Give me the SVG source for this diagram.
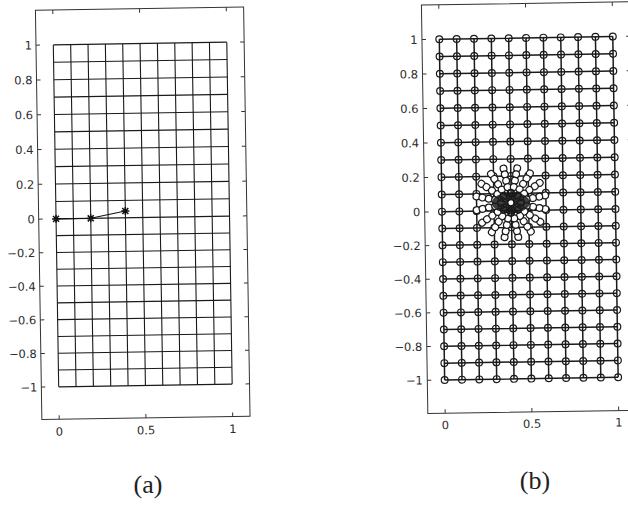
<svg xmlns="http://www.w3.org/2000/svg" width="628" height="506" viewBox="0 0 628 506">
<style>
.ax{fill:none;stroke:#333;stroke-width:1}
.ga{fill:none;stroke:#1a1a1a;stroke-width:1.1}
.gb{fill:none;stroke:#1a1a1a;stroke-width:1.5}
.nd{fill:none;stroke:#1a1a1a;stroke-width:1.2}
.cl{fill:#fff;stroke:#1a1a1a;stroke-width:1.2}
.tk{font-family:"DejaVu Sans",sans-serif;font-size:11.5px;fill:#2a2a2a}
.ty{text-anchor:end}
.tx{text-anchor:middle}
.cap{font-family:"Liberation Serif",serif;font-size:26px;fill:#222;text-anchor:middle}
</style>
<defs>
<path id="star" d="M-4 0H4M0-4V4M-3-3L3 3M-3 3L3-3" fill="none" stroke="#111" stroke-width="1.5"/>
<g id="brow" class="nd">
<circle cx="442" cy="0" r="3.4"/><circle cx="459.35" cy="0" r="3.4"/><circle cx="476.7" cy="0" r="3.4"/><circle cx="494.05" cy="0" r="3.4"/><circle cx="511.4" cy="0" r="3.4"/><circle cx="528.75" cy="0" r="3.4"/><circle cx="546.1" cy="0" r="3.4"/><circle cx="563.45" cy="0" r="3.4"/><circle cx="580.8" cy="0" r="3.4"/><circle cx="598.15" cy="0" r="3.4"/><circle cx="615.5" cy="0" r="3.4"/>
</g>
<line id="spoke" x1="0" y1="0" x2="35" y2="0" stroke="#111" stroke-width="1.4"/>
<g id="ray" class="cl"><circle cx="35" cy="0" r="3.4"/><circle cx="29" cy="0" r="3.4"/><circle cx="22.5" cy="0" r="3.4"/><circle cx="16" cy="0" r="3.4"/></g>
</defs>
<rect width="628" height="506" fill="#fff"/>

<g id="plot-a" transform="rotate(-0.9 143 215)">
<rect class="ax" x="38.65" y="8.7" width="208.2" height="409.3"/>
<path class="ax" d="M38.65 43.5h4M38.65 78.3h4M38.65 113.1h4M38.65 147.9h4M38.65 182.7h4M38.65 217.5h4M38.65 251.1h4M38.65 284.7h4M38.65 318.3h4M38.65 351.9h4M38.65 385.5h4M246.85 43.5h-4M246.85 78.3h-4M246.85 113.1h-4M246.85 147.9h-4M246.85 182.7h-4M246.85 217.5h-4M246.85 251.1h-4M246.85 284.7h-4M246.85 318.3h-4M246.85 351.9h-4M246.85 385.5h-4M56 8.7v4M142.75 8.7v4M229.5 8.7v4M56 418v-4M142.75 418v-4M229.5 418v-4"/>
<path class="ga" d="M56 43.5V385.5M73.35 43.5V385.5M90.7 43.5V385.5M108.05 43.5V385.5M125.4 43.5V385.5M142.75 43.5V385.5M160.1 43.5V385.5M177.45 43.5V385.5M194.8 43.5V385.5M212.15 43.5V385.5M229.5 43.5V385.5"/>
<path class="ga" d="M56 43.5H229.5M56 60.9H229.5M56 95.7H229.5M56 113.1H229.5M56 130.5H229.5M56 147.9H229.5M56 165.3H229.5M56 182.7H229.5M56 200.1H229.5M56 217.5H229.5M56 251.1H229.5M56 267.9H229.5M56 284.7H229.5M56 301.5H229.5M56 318.3H229.5M56 335.1H229.5M56 351.9H229.5M56 368.7H229.5M56 385.5H229.5"/>
<path class="ga" stroke-width="1.8" d="M56 78.3H229.5M56 234.3H229.5"/>
<g id="path-a">
<path d="M56 217.5L90.7 217.5L125.4 210.7" fill="none" stroke="#111" stroke-width="1.1"/>
<use href="#star" x="56" y="217.5"/>
<use href="#star" x="90.7" y="217.5"/>
<use href="#star" x="125.4" y="210.7"/>
</g>
<g class="tk ty">
<text x="34.65" y="47.7">1</text>
<text x="34.65" y="82.5">0.8</text>
<text x="34.65" y="117.3">0.6</text>
<text x="34.65" y="152.1">0.4</text>
<text x="34.65" y="186.9">0.2</text>
<text x="34.65" y="221.7">0</text>
<text x="34.65" y="255.3">−0.2</text>
<text x="34.65" y="288.9">−0.4</text>
<text x="34.65" y="322.5">−0.6</text>
<text x="34.65" y="356.1">−0.8</text>
<text x="34.65" y="389.7">−1</text>
</g>
<g class="tk tx">
<text x="56" y="434.4">0</text>
<text x="142.75" y="434.4">0.5</text>
<text x="229.5" y="434.4">1</text>
</g>
</g>
<text class="cap" x="148" y="493">(a)</text>

<g id="plot-b" transform="rotate(-0.9 529 210)">
<rect class="ax" x="424.65" y="3.4" width="208.2" height="408.6"/>
<path class="ax" d="M424.65 37.9h4M424.65 72.4h4M424.65 106.9h4M424.65 141.3h4M424.65 175.8h4M424.65 210.3h4M424.65 244h4M424.65 277.6h4M424.65 311.3h4M424.65 344.9h4M424.65 378.6h4M632.85 37.9h-4M632.85 72.4h-4M632.85 106.9h-4M632.85 141.3h-4M632.85 175.8h-4M632.85 210.3h-4M632.85 244h-4M632.85 277.6h-4M632.85 311.3h-4M632.85 344.9h-4M632.85 378.6h-4M442 3.4v4M528.75 3.4v4M615.5 3.4v4M442 412v-4M528.75 412v-4M615.5 412v-4"/>
<path class="gb" d="M442 37.9V378.6M459.35 37.9V378.6M476.7 37.9V378.6M494.05 37.9V378.6M511.4 37.9V378.6M528.75 37.9V378.6M546.1 37.9V378.6M563.45 37.9V378.6M580.8 37.9V378.6M598.15 37.9V378.6M615.5 37.9V378.6"/>
<path class="gb" d="M442 37.9H615.5M442 55.1H615.5M442 72.4H615.5M442 89.6H615.5M442 106.9H615.5M442 124.1H615.5M442 141.3H615.5M442 158.6H615.5M442 175.8H615.5M442 193.1H615.5M442 210.3H615.5M442 227.1H615.5M442 244H615.5M442 260.8H615.5M442 277.6H615.5M442 294.5H615.5M442 311.3H615.5M442 328.1H615.5M442 344.9H615.5M442 361.8H615.5M442 378.6H615.5"/>
<g id="nodes-b">
<use href="#brow" y="37.9"/><use href="#brow" y="55.1"/><use href="#brow" y="72.4"/><use href="#brow" y="89.6"/><use href="#brow" y="106.9"/><use href="#brow" y="124.1"/><use href="#brow" y="141.3"/><use href="#brow" y="158.6"/><use href="#brow" y="175.8"/><use href="#brow" y="193.1"/><use href="#brow" y="210.3"/><use href="#brow" y="227.1"/><use href="#brow" y="244"/><use href="#brow" y="260.8"/><use href="#brow" y="277.6"/><use href="#brow" y="294.5"/><use href="#brow" y="311.3"/><use href="#brow" y="328.1"/><use href="#brow" y="344.9"/><use href="#brow" y="361.8"/><use href="#brow" y="378.6"/>
</g>
<g id="cluster" transform="translate(511 202.5)">
<use href="#spoke" transform="rotate(11.25)"/><use href="#spoke" transform="rotate(33.75)"/><use href="#spoke" transform="rotate(56.25)"/><use href="#spoke" transform="rotate(78.75)"/><use href="#spoke" transform="rotate(101.25)"/><use href="#spoke" transform="rotate(123.75)"/><use href="#spoke" transform="rotate(146.25)"/><use href="#spoke" transform="rotate(168.75)"/><use href="#spoke" transform="rotate(191.25)"/><use href="#spoke" transform="rotate(213.75)"/><use href="#spoke" transform="rotate(236.25)"/><use href="#spoke" transform="rotate(258.75)"/><use href="#spoke" transform="rotate(281.25)"/><use href="#spoke" transform="rotate(303.75)"/><use href="#spoke" transform="rotate(326.25)"/><use href="#spoke" transform="rotate(348.75)"/>
<use href="#ray" transform="rotate(11.25)"/><use href="#ray" transform="rotate(33.75)"/><use href="#ray" transform="rotate(56.25)"/><use href="#ray" transform="rotate(78.75)"/><use href="#ray" transform="rotate(101.25)"/><use href="#ray" transform="rotate(123.75)"/><use href="#ray" transform="rotate(146.25)"/><use href="#ray" transform="rotate(168.75)"/><use href="#ray" transform="rotate(191.25)"/><use href="#ray" transform="rotate(213.75)"/><use href="#ray" transform="rotate(236.25)"/><use href="#ray" transform="rotate(258.75)"/><use href="#ray" transform="rotate(281.25)"/><use href="#ray" transform="rotate(303.75)"/><use href="#ray" transform="rotate(326.25)"/><use href="#ray" transform="rotate(348.75)"/>
<ellipse cx="0" cy="0" rx="19" ry="10.5" fill="#1c1c1c" opacity="0.85"/>
<g class="nd" stroke="#000"><circle cx="10" cy="0" r="3.4"/><circle cx="7.07" cy="7.07" r="3.4"/><circle cx="0" cy="10" r="3.4"/><circle cx="-7.07" cy="7.07" r="3.4"/><circle cx="-10" cy="0" r="3.4"/><circle cx="-7.07" cy="-7.07" r="3.4"/><circle cx="0" cy="-10" r="3.4"/><circle cx="7.07" cy="-7.07" r="3.4"/></g>
<circle cx="0" cy="0" r="3" fill="#fff" stroke="#111" stroke-width="1"/>
</g>
<g class="tk ty">
<text x="420.2" y="42.1">1</text>
<text x="420.2" y="76.6">0.8</text>
<text x="420.2" y="111.1">0.6</text>
<text x="420.2" y="145.5">0.4</text>
<text x="420.2" y="180">0.2</text>
<text x="420.2" y="214.5">0</text>
<text x="420.2" y="248.2">−0.2</text>
<text x="420.2" y="281.8">−0.4</text>
<text x="420.2" y="315.5">−0.6</text>
<text x="420.2" y="349.1">−0.8</text>
<text x="420.2" y="382.8">−1</text>
</g>
<g class="tk tx">
<text x="442" y="427.9">0</text>
<text x="528.75" y="427.9">0.5</text>
<text x="615.5" y="427.9">1</text>
</g>
</g>
<text class="cap" x="535" y="489">(b)</text>
</svg>
